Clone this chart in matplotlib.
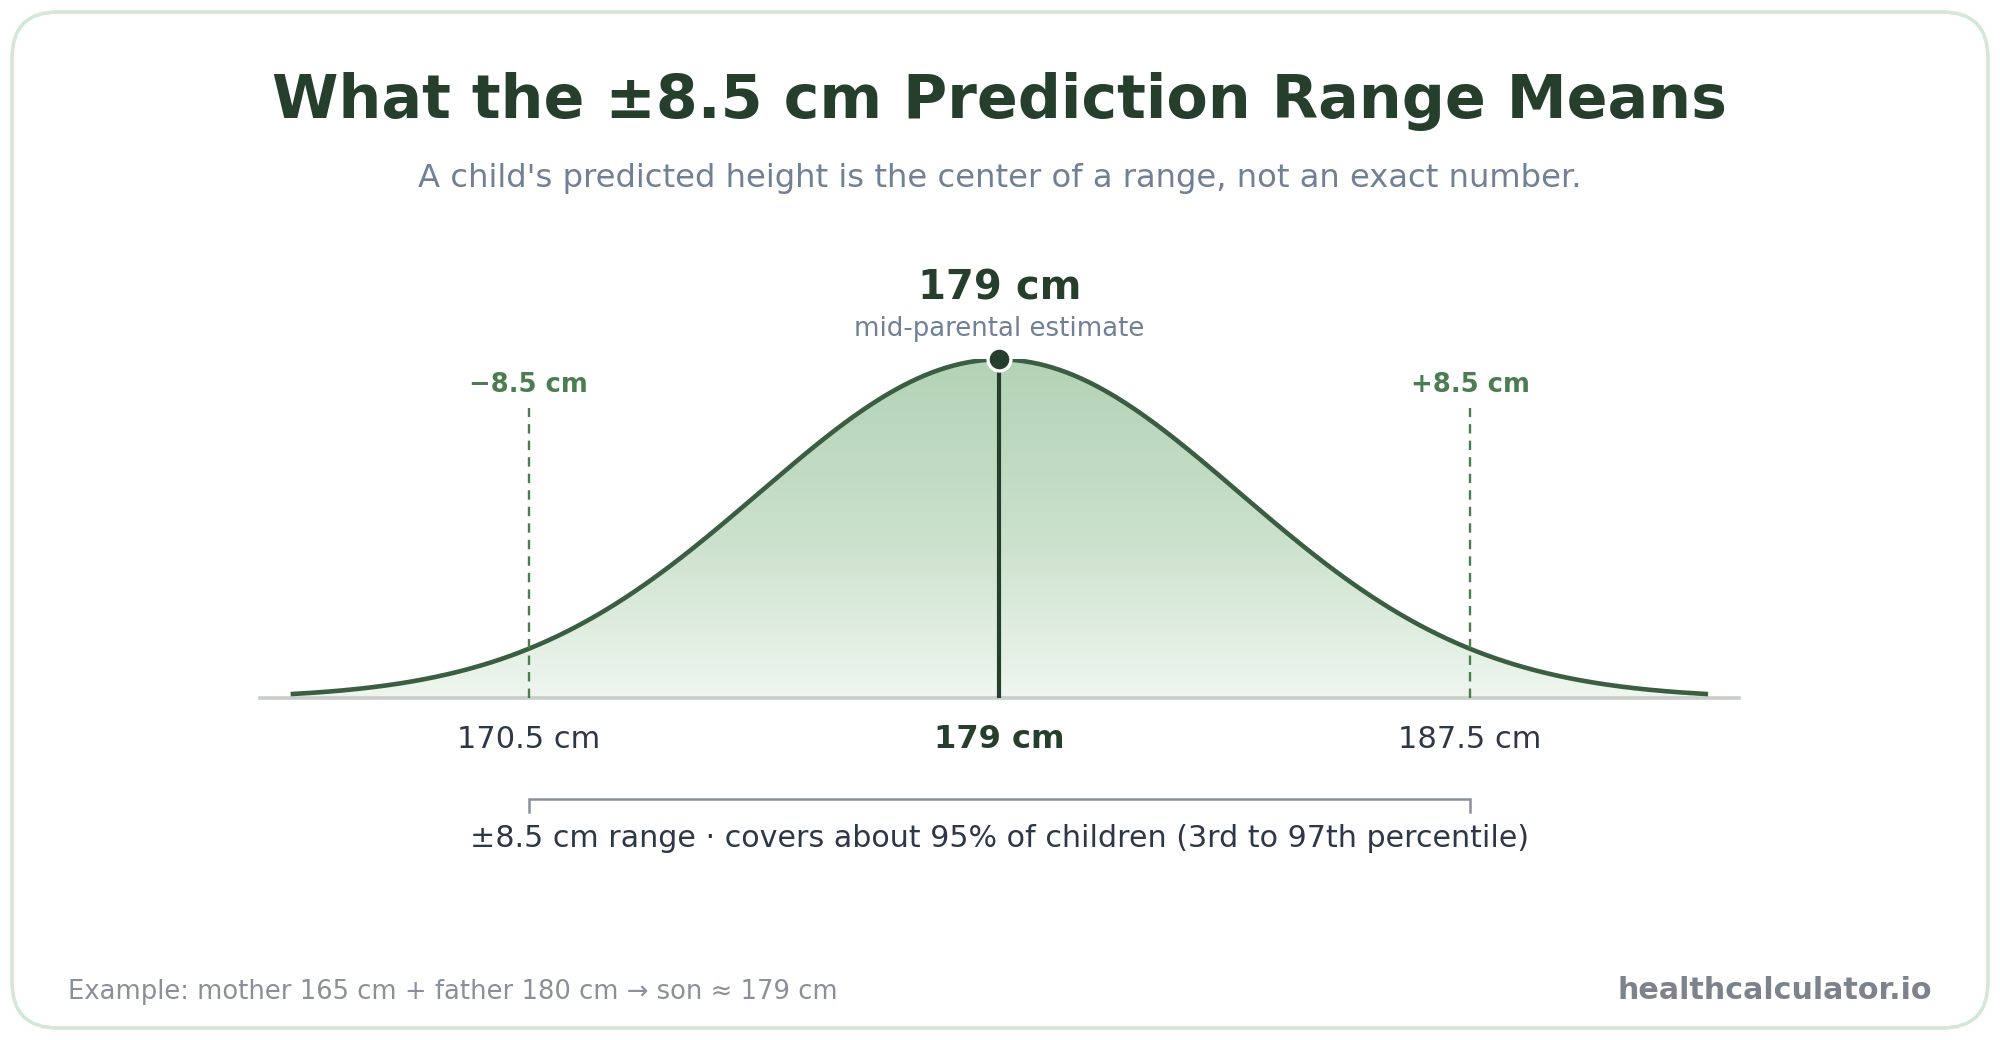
import numpy as np
import matplotlib
matplotlib.use("Agg")
import matplotlib.pyplot as plt
from matplotlib.patches import FancyBboxPatch
from matplotlib.colors import LinearSegmentedColormap

# chart values
mean_cm = 179.0
range_cm = 8.5
coverage_z = 1.96  # ±8.5 cm is the 95% band
sd_cm = range_cm / coverage_z
curve_span = 12.8  # how far the drawn curve reaches on each side
tick_values = [mean_cm - range_cm, mean_cm, mean_cm + range_cm]
tick_labels = ["170.5 cm", "179 cm", "187.5 cm"]
offset_labels = ["\u22128.5 cm", "+8.5 cm"]

title = "What the \u00b18.5 cm Prediction Range Means"
subtitle = "A child's predicted height is the center of a range, not an exact number."
peak_label = "179 cm"
peak_sub = "mid-parental estimate"
bracket_text = "\u00b18.5 cm range \u00b7 covers about 95% of children (3rd to 97th percentile)"
footer_left = "Example: mother 165 cm + father 180 cm \u2192 son \u2248 179 cm"
footer_right = "healthcalculator.io"

# colours
dark = "#263f2d"
curve_col = "#3b5d41"
dash_col = "#4b7d50"
slate = "#718096"
text_col = "#2d3748"
gray = "#8a9099"

W, H = 2000, 1040
fig = plt.figure(figsize=(20, 10.4), dpi=100)
fig.patch.set_facecolor("white")

# background card (pixel coordinates)
bg = fig.add_axes([0, 0, 1, 1])
bg.set_xlim(0, W)
bg.set_ylim(0, H)
bg.axis("off")
card = FancyBboxPatch((12, 12), W - 24, H - 24,
                      boxstyle="round,pad=0,rounding_size=46",
                      facecolor="white", edgecolor="#d5e7d6", linewidth=2.6)
bg.add_patch(card)


def fy(y_disp):
    # vertical position measured from the top of the 816 px preview
    return 1 - y_disp / 816


fig.text(0.5, fy(80), title, ha="center", va="center", fontsize=43.4,
         fontweight="bold", color=dark)
fig.text(0.5, fy(140), subtitle, ha="center", va="center", fontsize=23.2,
         color=slate)

# main plot axes: x in cm, y normalised so the peak is 1
ax = fig.add_axes([204 / 1568, fy(548), (1363 - 204) / 1568, (548 - 282) / 816])
ax.set_xlim(mean_cm - 13.35, mean_cm + 13.35)
ax.set_ylim(0, 1)
ax.axis("off")

x = np.linspace(mean_cm - curve_span, mean_cm + curve_span, 600)
y = np.exp(-0.5 * ((x - mean_cm) / sd_cm) ** 2)

# gradient fill under the curve
cmap = LinearSegmentedColormap.from_list("fill", ["#eff6ef", "#c9e0ca", "#b2d3b6"])
grad = np.linspace(0, 1, 256).reshape(-1, 1)
img = ax.imshow(grad, cmap=cmap, aspect="auto", origin="lower",
                extent=(x[0], x[-1], 0, 1), zorder=1)
poly = ax.fill_between(x, 0, y, facecolor="none", edgecolor="none")
img.set_clip_path(poly.get_paths()[0], transform=ax.transData)

ax.plot(x, y, color=curve_col, lw=3.3, zorder=4, solid_capstyle="butt")

# baseline
ax.plot([mean_cm - 13.35, mean_cm + 13.35], [0, 0], color="#c9cec9",
        lw=2.6, zorder=3, clip_on=False)

# ±8.5 dashed markers
for v, lab in zip([tick_values[0], tick_values[2]], offset_labels):
    ax.plot([v, v], [0, 0.857], color=dash_col, lw=1.7, ls=(0, (4, 3)),
            zorder=5, clip_on=False)
    ax.text(v, 0.925, lab, ha="center", va="center", fontsize=18.6,
            fontweight="bold", color=dash_col)

# centre line and peak marker
ax.plot([mean_cm, mean_cm], [0, 1], color=dark, lw=3.0, zorder=5)
ax.plot([mean_cm], [1], marker="o", ms=16.5, mfc=dark, mec="white", mew=2.4,
        zorder=6, clip_on=False)
ax.text(mean_cm, (548 - 226) / 266, peak_label, ha="center", va="center",
        fontsize=28.9, fontweight="bold", color=dark)
ax.text(mean_cm, (548 - 258) / 266, peak_sub, ha="center", va="center",
        fontsize=18.7, color=slate)

# tick labels under the baseline
for v, lab in zip(tick_values, tick_labels):
    bold = v == mean_cm
    ax.text(v, (548 - 580) / 266, lab, ha="center", va="center",
            fontsize=23.1 if bold else 22,
            fontweight="bold" if bold else "normal",
            color=dark if bold else text_col, clip_on=False)

# bracket showing the range
yb, yt = (548 - 627) / 266, (548 - 637) / 266
ax.plot([tick_values[0], tick_values[0], tick_values[2], tick_values[2]],
        [yt, yb, yb, yt], color=gray, lw=1.8, clip_on=False,
        solid_joinstyle="miter")
ax.text(mean_cm, (548 - 658) / 266, bracket_text, ha="center", va="center",
        fontsize=21.7, color=text_col, clip_on=False)

# footer
fig.text(53 / 1568, fy(778), footer_left, ha="left", va="center",
         fontsize=18.65, color="#8a9099")
fig.text(1515 / 1568, fy(777), footer_right, ha="right", va="center",
         fontsize=21.7, fontweight="bold", color="#7c838c")

fig.savefig("out.png", dpi=100, facecolor="white")
